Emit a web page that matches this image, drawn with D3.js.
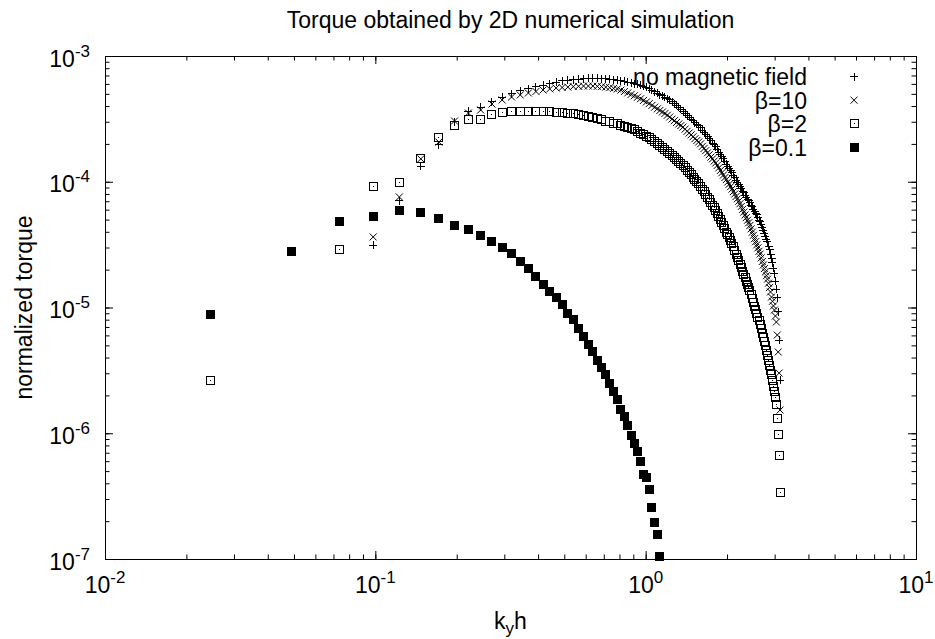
<!DOCTYPE html>
<html>
<head>
<meta charset="utf-8">
<script src="https://cdn.jsdelivr.net/npm/d3@7"></script>
<style>
  body { margin: 0; background: #fff; }
  text { font-family: "Liberation Sans", Arial, Helvetica, sans-serif; fill: #000; }
</style>
</head>
<body>
<div id="chart"></div>
<script>
// k_y h values (k = 2*pi*n/L, n = 1..128)
var kValues = [
  0.02454, 0.04909, 0.07363, 0.09817, 0.1227, 0.1473, 0.1718, 0.1963, 0.2209, 0.2454,
  0.2700, 0.2945, 0.3191, 0.3436, 0.3682, 0.3927, 0.4172, 0.4418, 0.4663, 0.4909,
  0.5154, 0.5400, 0.5645, 0.5890, 0.6136, 0.6381, 0.6627, 0.6872, 0.7118, 0.7363,
  0.7609, 0.7854, 0.8099, 0.8345, 0.8590, 0.8836, 0.9081, 0.9327, 0.9572, 0.9817,
  1.0063, 1.0308, 1.0554, 1.0799, 1.1045, 1.1290, 1.1536, 1.1781, 1.2026, 1.2272,
  1.2517, 1.2763, 1.3008, 1.3254, 1.3499, 1.3744, 1.3990, 1.4235, 1.4481, 1.4726,
  1.4972, 1.5217, 1.5463, 1.5708, 1.5953, 1.6199, 1.6444, 1.6690, 1.6935, 1.7181,
  1.7426, 1.7671, 1.7917, 1.8162, 1.8408, 1.8653, 1.8899, 1.9144, 1.9390, 1.9635,
  1.9880, 2.0126, 2.0371, 2.0617, 2.0862, 2.1108, 2.1353, 2.1598, 2.1844, 2.2089,
  2.2335, 2.2580, 2.2826, 2.3071, 2.3317, 2.3562, 2.3807, 2.4053, 2.4298, 2.4544,
  2.4789, 2.5035, 2.5280, 2.5525, 2.5771, 2.6016, 2.6262, 2.6507, 2.6753, 2.6998,
  2.7243, 2.7489, 2.7734, 2.7980, 2.8225, 2.8471, 2.8716, 2.8962, 2.9207, 2.9452,
  2.9698, 2.9943, 3.0189, 3.0434, 3.0680, 3.0925, 3.1171, 3.1416
];

// normalized torque, one value per k (null = not shown)
var torqueNoField = [
  null, null, null, 3.14e-5, 7.03e-5, 1.33e-4, 1.96e-4, 2.99e-4, 3.65e-4, 3.93e-4,
  4.31e-4, 4.72e-4, 4.99e-4, 5.27e-4, 5.47e-4, 5.67e-4, 5.88e-4, 6.04e-4, 6.21e-4, 6.33e-4,
  6.41e-4, 6.49e-4, 6.56e-4, 6.62e-4, 6.66e-4, 6.68e-4, 6.66e-4, 6.62e-4, 6.59e-4, 6.56e-4,
  6.50e-4, 6.44e-4, 6.37e-4, 6.30e-4, 6.21e-4, 6.12e-4, 6.03e-4, 5.94e-4, 5.86e-4, 5.75e-4,
  5.64e-4, 5.48e-4, 5.35e-4, 5.21e-4, 5.07e-4, 4.94e-4, 4.82e-4, 4.69e-4, 4.58e-4, 4.47e-4,
  4.32e-4, 4.19e-4, 4.04e-4, 3.90e-4, 3.76e-4, 3.63e-4, 3.51e-4, 3.38e-4, 3.27e-4, 3.15e-4,
  3.05e-4, 2.95e-4, 2.86e-4, 2.78e-4, 2.68e-4, 2.57e-4, 2.47e-4, 2.38e-4, 2.29e-4, 2.20e-4,
  2.11e-4, 2.03e-4, 1.96e-4, 1.89e-4, 1.81e-4, 1.72e-4, 1.65e-4, 1.58e-4, 1.52e-4, 1.45e-4,
  1.38e-4, 1.33e-4, 1.28e-4, 1.23e-4, 1.18e-4, 1.13e-4, 1.08e-4, 1.03e-4, 9.92e-5, 9.53e-5,
  9.15e-5, 8.79e-5, 8.44e-5, 8.14e-5, 7.84e-5, 7.56e-5, 7.29e-5, 7.03e-5, 6.78e-5, 6.53e-5,
  6.30e-5, 6.07e-5, 5.85e-5, 5.64e-5, 5.44e-5, 5.15e-5, 4.96e-5, 4.79e-5, 4.53e-5, 4.29e-5,
  4.13e-5, 3.91e-5, 3.70e-5, 3.50e-5, 3.32e-5, 3.08e-5, 2.87e-5, 2.66e-5, 2.47e-5, 2.26e-5,
  2.06e-5, 1.85e-5, 1.62e-5, 1.40e-5, 1.19e-5, 9.21e-6, 5.51e-6, 2.65e-6
];

var torqueBeta10 = [
  null, null, null, 3.64e-5, 7.56e-5, 1.52e-4, 2.07e-4, 3.04e-4, 3.52e-4, 3.72e-4,
  4.15e-4, 4.47e-4, 4.72e-4, 4.90e-4, 5.08e-4, 5.22e-4, 5.37e-4, 5.47e-4, 5.57e-4, 5.62e-4,
  5.66e-4, 5.71e-4, 5.74e-4, 5.77e-4, 5.77e-4, 5.77e-4, 5.74e-4, 5.71e-4, 5.66e-4, 5.60e-4,
  5.53e-4, 5.47e-4, 5.36e-4, 5.22e-4, 5.09e-4, 4.95e-4, 4.83e-4, 4.70e-4, 4.57e-4, 4.43e-4,
  4.31e-4, 4.18e-4, 4.05e-4, 3.92e-4, 3.80e-4, 3.69e-4, 3.59e-4, 3.49e-4, 3.38e-4, 3.27e-4,
  3.15e-4, 3.06e-4, 2.96e-4, 2.88e-4, 2.80e-4, 2.72e-4, 2.62e-4, 2.52e-4, 2.44e-4, 2.36e-4,
  2.28e-4, 2.20e-4, 2.13e-4, 2.07e-4, 2.00e-4, 1.91e-4, 1.84e-4, 1.77e-4, 1.70e-4, 1.64e-4,
  1.57e-4, 1.52e-4, 1.46e-4, 1.41e-4, 1.35e-4, 1.29e-4, 1.23e-4, 1.18e-4, 1.13e-4, 1.08e-4,
  1.04e-4, 9.95e-5, 9.56e-5, 9.15e-5, 8.74e-5, 8.35e-5, 7.99e-5, 7.63e-5, 7.32e-5, 7.00e-5,
  6.69e-5, 6.36e-5, 6.03e-5, 5.74e-5, 5.44e-5, 5.19e-5, 4.94e-5, 4.72e-5, 4.49e-5, 4.22e-5,
  3.97e-5, 3.75e-5, 3.53e-5, 3.34e-5, 3.15e-5, 2.98e-5, 2.80e-5, 2.66e-5, 2.48e-5, 2.32e-5,
  2.18e-5, 2.04e-5, 1.92e-5, 1.79e-5, 1.68e-5, 1.56e-5, 1.44e-5, 1.33e-5, 1.21e-5, 1.12e-5,
  1.03e-5, 9.55e-6, 8.56e-6, 7.67e-6, 6.04e-6, 4.43e-6, 3.01e-6, 1.53e-6
];

var torqueBeta2 = [
  2.65e-6, null, 2.87e-5, 9.25e-5, 9.95e-5, 1.52e-4, 2.25e-4, 2.79e-4, 3.10e-4, 3.10e-4,
  3.44e-4, 3.57e-4, 3.59e-4, 3.60e-4, 3.61e-4, 3.61e-4, 3.60e-4, 3.59e-4, 3.57e-4, 3.55e-4,
  3.52e-4, 3.48e-4, 3.43e-4, 3.38e-4, 3.33e-4, 3.27e-4, 3.20e-4, 3.12e-4, 3.04e-4, 2.99e-4,
  2.93e-4, 2.88e-4, 2.82e-4, 2.76e-4, 2.70e-4, 2.65e-4, 2.58e-4, 2.51e-4, 2.43e-4, 2.36e-4,
  2.30e-4, 2.24e-4, 2.16e-4, 2.08e-4, 2.01e-4, 1.94e-4, 1.87e-4, 1.81e-4, 1.74e-4, 1.68e-4,
  1.61e-4, 1.56e-4, 1.50e-4, 1.45e-4, 1.40e-4, 1.35e-4, 1.29e-4, 1.23e-4, 1.18e-4, 1.14e-4,
  1.09e-4, 1.04e-4, 1.00e-4, 9.63e-5, 9.20e-5, 8.74e-5, 8.30e-5, 7.92e-5, 7.54e-5, 7.19e-5,
  6.84e-5, 6.53e-5, 6.23e-5, 5.96e-5, 5.61e-5, 5.28e-5, 4.99e-5, 4.72e-5, 4.46e-5, 4.22e-5,
  3.98e-5, 3.78e-5, 3.58e-5, 3.40e-5, 3.23e-5, 3.04e-5, 2.85e-5, 2.66e-5, 2.50e-5, 2.35e-5,
  2.21e-5, 2.07e-5, 1.94e-5, 1.83e-5, 1.72e-5, 1.62e-5, 1.53e-5, 1.45e-5, 1.36e-5, 1.27e-5,
  1.18e-5, 1.10e-5, 1.02e-5, 9.59e-6, 8.98e-6, 8.39e-6, 7.81e-6, 7.31e-6, 6.75e-6, 6.22e-6,
  5.78e-6, 5.34e-6, 4.96e-6, 4.55e-6, 4.16e-6, 3.81e-6, 3.48e-6, 3.18e-6, 2.91e-6, 2.65e-6,
  2.37e-6, 2.13e-6, 1.91e-6, 1.68e-6, 1.30e-6, 9.86e-7, 6.71e-7, 3.35e-7
];

var torqueBeta01 = [
  8.83e-6, 2.81e-5, 4.85e-5, 5.31e-5, 5.93e-5, 5.72e-5, 5.12e-5, 4.50e-5, 4.19e-5, 3.75e-5,
  3.36e-5, 3.01e-5, 2.70e-5, 2.33e-5, 2.05e-5, 1.77e-5, 1.53e-5, 1.35e-5, 1.19e-5, 1.05e-5,
  9.04e-6, 7.96e-6, 6.87e-6, 5.93e-6, 5.12e-6, 4.45e-6, 3.82e-6, 3.35e-6, 2.92e-6, 2.50e-6,
  2.13e-6, 1.84e-6, 1.55e-6, 1.35e-6, 1.16e-6, 9.63e-7, 8.32e-7, 7.22e-7, 5.91e-7, 4.74e-7,
  4.41e-7, 3.58e-7, 2.58e-7, 1.94e-7, 1.58e-7, 1.04e-7
];

var seriesNames = ["no magnetic field", "β=10", "β=2", "β=0.1"];
var xMajorTicks = [0.01, 0.1, 1, 10];
var xTickExponents = ["-2", "-1", "0", "1"];
var yMajorTicks = [1e-7, 1e-6, 1e-5, 1e-4, 1e-3];
var yTickExponents = ["-7", "-6", "-5", "-4", "-3"];

// chart size and plot frame
var width = 935, height = 639;
var margin = { top: 56, right: 19, bottom: 80, left: 105 };
var plotW = width - margin.left - margin.right,
    plotH = height - margin.top - margin.bottom;

var svg = d3.select("#chart").append("svg")
    .attr("width", width)
    .attr("height", height);

var xscale = d3.scaleLog().domain([0.01, 10]).range([margin.left, margin.left + plotW]);
var yscale = d3.scaleLog().domain([1e-7, 1e-3]).range([margin.top + plotH, margin.top]);

// ticks on all four sides, pointing inward
function drawTicks(axis, transform, values, size) {
    var g = svg.append("g")
        .attr("transform", transform)
        .call(axis.tickValues(values).tickSize(size).tickFormat(""));
    g.select(".domain").remove();
    g.selectAll(".tick line").attr("stroke", "#000").attr("stroke-width", 1);
}
var xMinor = xscale.ticks(), yMinor = yscale.ticks();
drawTicks(d3.axisBottom(xscale), "translate(0," + (margin.top + plotH) + ")", xMinor, -4.5);
drawTicks(d3.axisBottom(xscale), "translate(0," + (margin.top + plotH) + ")", xMajorTicks, -8);
drawTicks(d3.axisTop(xscale), "translate(0," + margin.top + ")", xMinor, -4.5);
drawTicks(d3.axisTop(xscale), "translate(0," + margin.top + ")", xMajorTicks, -8);
drawTicks(d3.axisLeft(yscale), "translate(" + margin.left + ",0)", yMinor, -4.5);
drawTicks(d3.axisLeft(yscale), "translate(" + margin.left + ",0)", yMajorTicks, -8);
drawTicks(d3.axisRight(yscale), "translate(" + (margin.left + plotW) + ",0)", yMinor, -4.5);
drawTicks(d3.axisRight(yscale), "translate(" + (margin.left + plotW) + ",0)", yMajorTicks, -8);

// frame
svg.append("rect")
    .attr("x", margin.left + 0.5).attr("y", margin.top + 0.5)
    .attr("width", plotW).attr("height", plotH)
    .attr("fill", "none").attr("stroke", "#000").attr("stroke-width", 1);

// tick labels 10^n
function powerLabel(sel, exp) {
    sel.append("tspan").text("10");
    sel.append("tspan").attr("dy", -10).attr("font-size", 17).text(exp);
}
xMajorTicks.forEach(function (v, i) {
    svg.append("text")
        .attr("x", xscale(v)).attr("y", margin.top + plotH + 34)
        .attr("text-anchor", "middle").attr("font-size", 23)
        .call(powerLabel, xTickExponents[i]);
});
yMajorTicks.forEach(function (v, i) {
    svg.append("text")
        .attr("x", 90).attr("y", yscale(v) + 10.7)
        .attr("text-anchor", "end").attr("font-size", 23)
        .call(powerLabel, yTickExponents[i]);
});

// title and axis labels
svg.append("text")
    .attr("x", margin.left + plotW / 2).attr("y", 28)
    .attr("text-anchor", "middle").attr("font-size", 23)
    .text("Torque obtained by 2D numerical simulation");

var xlab = svg.append("text")
    .attr("x", margin.left + plotW / 2).attr("y", 629)
    .attr("text-anchor", "middle").attr("font-size", 23);
xlab.append("tspan").text("k");
xlab.append("tspan").attr("font-size", 17).attr("dy", 5).text("y");
xlab.append("tspan").attr("dy", -5).text("h");

svg.append("text")
    .attr("transform", "translate(31.7," + (margin.top + plotH / 2) + ") rotate(-90)")
    .attr("text-anchor", "middle").attr("font-size", 23)
    .text("normalized torque");

// point symbols
var symbols = [
    function (g) { g.append("path").attr("d", "M-4,0H4M0,-4V4").attr("stroke", "#000").attr("fill", "none"); },
    function (g) { g.append("path").attr("d", "M-3.5,-3.5L3.5,3.5M-3.5,3.5L3.5,-3.5").attr("stroke", "#000").attr("fill", "none"); },
    function (g) {
        g.append("rect").attr("x", -4).attr("y", -4).attr("width", 8).attr("height", 8)
            .attr("fill", "none").attr("stroke", "#000");
        g.append("rect").attr("x", -0.5).attr("y", -0.5).attr("width", 1).attr("height", 1).attr("fill", "#000");
    },
    function (g) { g.append("rect").attr("x", -4.5).attr("y", -4.5).attr("width", 9).attr("height", 9).attr("fill", "#000"); }
];

var allSeries = [torqueNoField, torqueBeta10, torqueBeta2, torqueBeta01];

allSeries.forEach(function (values, s) {
    var pts = values.map(function (v, i) { return { k: kValues[i], v: v }; })
        .filter(function (d) { return d.v !== null; });
    svg.append("g")
        .attr("shape-rendering", s === 1 ? "auto" : "crispEdges")
        .selectAll("g")
        .data(pts)
        .join("g")
        .attr("transform", function (d) { return "translate(" + xscale(d.k) + "," + yscale(d.v) + ")"; })
        .each(function () { symbols[s](d3.select(this)); });
});

// legend
seriesNames.forEach(function (name, i) {
    var cy = 76.5 + i * 23.7;
    svg.append("text")
        .attr("x", 807).attr("y", cy + 8.5)
        .attr("text-anchor", "end").attr("font-size", 23)
        .text(name);
    var g = svg.append("g")
        .attr("transform", "translate(854," + cy + ")")
        .attr("shape-rendering", i === 1 ? "auto" : "crispEdges");
    symbols[i](g);
});
</script>
</body>
</html>
